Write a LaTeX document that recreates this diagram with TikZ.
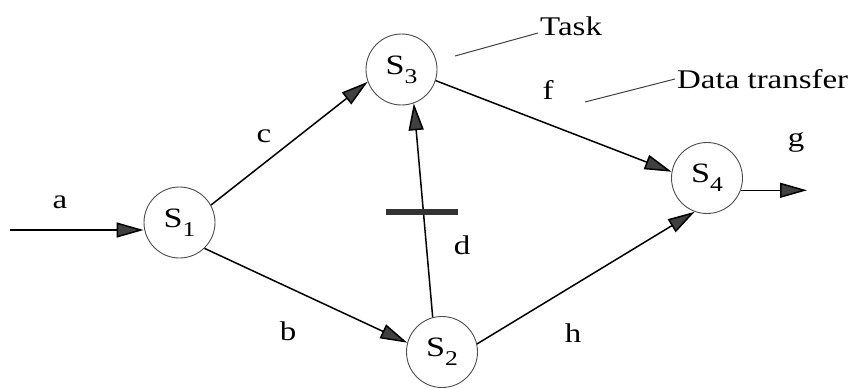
\documentclass[tikz,border=0pt]{standalone}
\usepackage{fontspec}
\setmainfont{Liberation Serif}[FakeStretch=1.22]
\usetikzlibrary{arrows.meta}
\newcommand\Sn[1]{S\raisebox{-9pt}{\fontsize{21}{21}\selectfont #1}}
\begin{document}
\begin{tikzpicture}[x=1pt,y=-1pt,
  task/.style={circle,draw=black!70,line width=0.9pt,minimum size=71pt,inner sep=0pt,font=\fontsize{28}{30}\selectfont},
  flow/.style={line width=1.5pt,-{Triangle[length=27pt,width=15pt,fill=black!75]}},
  lbl/.style={inner sep=0pt,font=\fontsize{27}{30}\selectfont},
  lead/.style={line width=1pt,draw=black!75},
  barline/.style={line width=6pt,draw=black!80}]
\useasboundingbox (0,0) rectangle (858,388);
\node[task] (S1) at (179.5,222.5) {\Sn{1}};
\node[task] (S3) at (401.5,69.5) {\Sn{3}};
\node[task] (S2) at (442,352) {\Sn{2}};
\node[task] (S4) at (707,178) {\Sn{4}};
\coordinate (in) at (10,230);
\coordinate (out) at (807,190);
\draw[flow] (in) -- (in -| S1.west);
\draw[flow] (S1.29) -- (S3.200);
\draw[flow] (S1.-46) -- (S2.165);
\draw[flow] (S2.105) -- (S3.-70);
\draw[flow] (S3.-18) -- (S4.170);
\draw[flow] (S2.13) -- (S4.-110);
\draw[flow] (S4.-20) -- (S4.-20 -| out);
\coordinate (barL) at (386,212);
\coordinate (barR) at (458,212);
\draw[barline] (barL) -- (barR);
\node[lbl] (la) at (60,202) {a};
\node[lbl] (lc) at (264,136) {c};
\node[lbl] (lb) at (288,331) {b};
\node[lbl] (ld) at (462,245) {d};
\node[lbl] (lf) at (548,90) {f};
\node[lbl] (lh) at (573,333) {h};
\node[lbl] (lg) at (796,142) {g};
\node[lbl,anchor=base west] (tasklbl) at (540,35) {Task};
\node[lbl,anchor=base west] (datalbl) at (677,88) {Data transfer};
\coordinate (tl) at (455,56);
\coordinate (dl) at (585,102);
\draw[lead] (tl) -- ([xshift=-2pt,yshift=2pt]tasklbl.base west);
\draw[lead] (dl) -- ([xshift=-2pt,yshift=9pt]datalbl.base west);
\end{tikzpicture}
\end{document}
